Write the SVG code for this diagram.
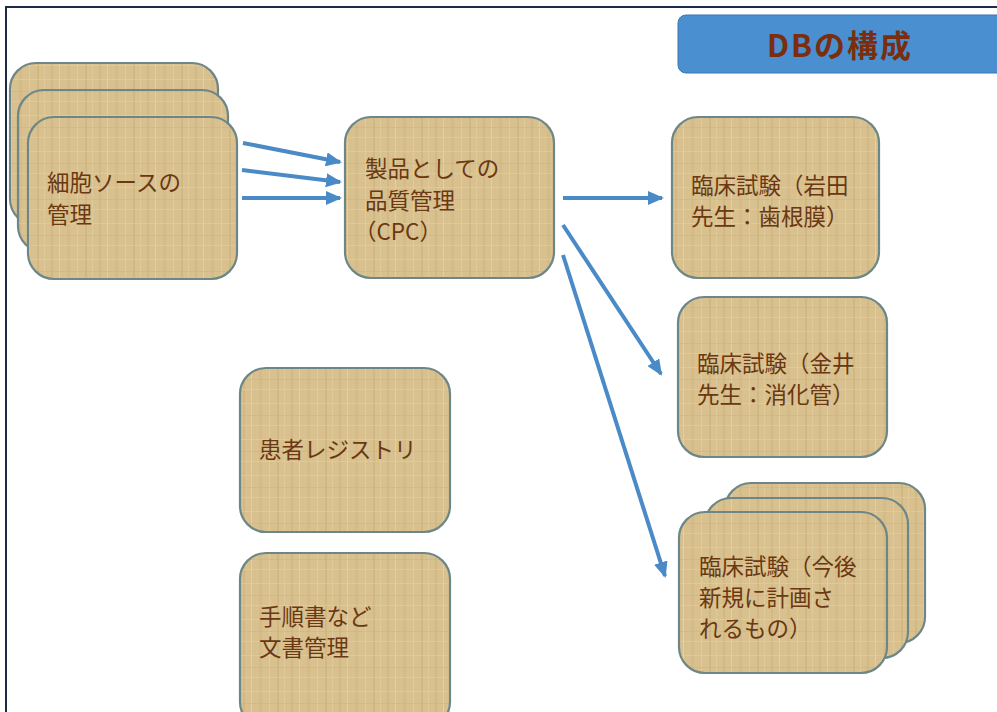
<svg xmlns="http://www.w3.org/2000/svg" width="997" height="712" viewBox="0 0 997 712">
<style>
.box{fill:url(#wood);stroke:#6d8688;stroke-width:2.2}
.lbl{font-family:"Noto Sans CJK JP","Noto Sans",sans-serif;font-size:22.5px;fill:#6a3812}
.conn{stroke:#4a8ac6;stroke-width:4;fill:none;marker-end:url(#ah)}
</style>
<defs>
<pattern id="wood" patternUnits="userSpaceOnUse" width="48" height="36">
<rect width="48" height="36" fill="#d8c18e"/>
<rect x="3" width="2" height="36" fill="#cbb079" opacity="0.5"/>
<rect x="11" width="1" height="36" fill="#e6d6a8" opacity="0.7"/>
<rect x="19" width="3" height="36" fill="#ccb27c" opacity="0.4"/>
<rect x="29" width="1" height="36" fill="#e4d3a2" opacity="0.6"/>
<rect x="37" width="2" height="36" fill="#c8ad76" opacity="0.45"/>
<rect x="44" width="1" height="36" fill="#e2cf9e" opacity="0.6"/>
<rect y="7" width="48" height="1" fill="#e4d4a4" opacity="0.5"/>
<rect y="19" width="48" height="1" fill="#c9ae78" opacity="0.4"/>
<rect y="29" width="48" height="1" fill="#e4d4a4" opacity="0.5"/>
</pattern>
<marker id="ah" markerUnits="userSpaceOnUse" markerWidth="16" markerHeight="14" refX="14" refY="7" orient="auto">
<path d="M0,0 L16,7 L0,14 Z" fill="#4a8ac6"/>
</marker>
</defs>
<rect width="997" height="712" fill="#ffffff"/>
<rect x="6" y="7" width="1010" height="720" fill="none" stroke="#1e2b48" stroke-width="2"/>

<g id="title">
<rect x="678" y="15" width="335" height="58" rx="8" fill="#4a8fd0" stroke="#3b77b2" stroke-width="1"/>
<text x="840" y="57" text-anchor="middle" font-family="'Noto Sans CJK JP','Noto Sans',sans-serif" font-size="31" font-weight="bold" letter-spacing="2" fill="#7a2e0e">DBの構成</text>
</g>

<g id="cell-source">
<rect class="box" x="10" y="63" width="208" height="162" rx="26"/>
<rect class="box" x="18" y="90" width="210" height="162" rx="26"/>
<rect class="box" x="28" y="117" width="209" height="162" rx="26"/>
<text class="lbl" x="47" y="191">細胞ソースの</text>
<text class="lbl" x="47" y="223">管理</text>
</g>

<g id="cpc">
<rect class="box" x="345" y="117" width="209" height="161" rx="26"/>
<text class="lbl" x="365" y="177">製品としての</text>
<text class="lbl" x="365" y="209">品質管理</text>
<text class="lbl" x="354" y="240">（CPC）</text>
</g>

<g id="trial-iwata">
<rect class="box" x="672" y="117" width="207" height="161" rx="26"/>
<text class="lbl" x="691" y="194">臨床試験（岩田</text>
<text class="lbl" x="691" y="225">先生：歯根膜）</text>
</g>

<g id="trial-kanai">
<rect class="box" x="678" y="297" width="209" height="160" rx="26"/>
<text class="lbl" x="697" y="372">臨床試験（金井</text>
<text class="lbl" x="697" y="403">先生：消化管）</text>
</g>

<g id="trial-future">
<rect class="box" x="725" y="483" width="200" height="160" rx="26"/>
<rect class="box" x="705" y="498" width="203" height="160" rx="26"/>
<rect class="box" x="679" y="512" width="208" height="161" rx="26"/>
<text class="lbl" x="699" y="575">臨床試験（今後</text>
<text class="lbl" x="699" y="606">新規に計画さ</text>
<text class="lbl" x="699" y="637">れるもの）</text>
</g>

<g id="registry">
<rect class="box" x="240" y="368" width="210" height="164" rx="26"/>
<text class="lbl" x="259" y="458">患者レジストリ</text>
</g>

<g id="documents">
<rect class="box" x="240" y="553" width="210" height="175" rx="26"/>
<text class="lbl" x="259" y="625">手順書など</text>
<text class="lbl" x="259" y="656">文書管理</text>
</g>

<g id="connectors">
<line class="conn" x1="243" y1="143" x2="340" y2="162"/>
<line class="conn" x1="242" y1="170" x2="340" y2="182"/>
<line class="conn" x1="242" y1="198" x2="340" y2="198"/>
<line class="conn" x1="563" y1="198" x2="662" y2="198"/>
<line class="conn" x1="563" y1="225" x2="661" y2="374"/>
<line class="conn" x1="563" y1="255" x2="665" y2="576"/>
</g>
</svg>
